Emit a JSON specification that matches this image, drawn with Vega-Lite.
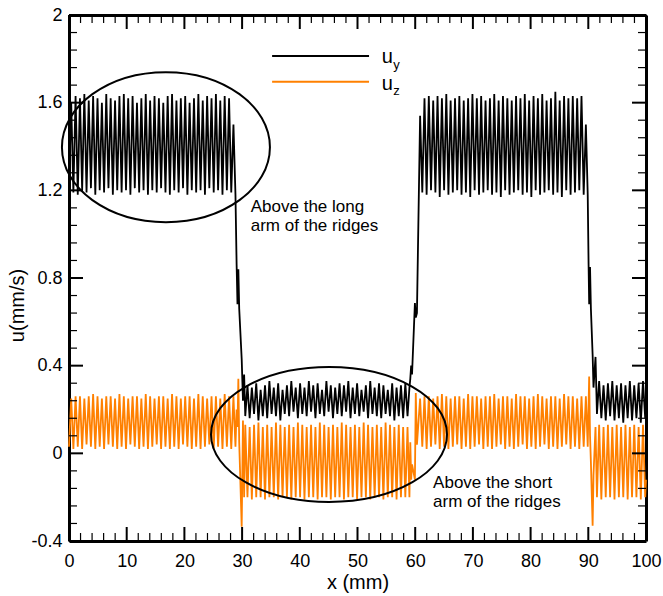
{
"$schema":"https://vega.github.io/schema/vega-lite/v6.json",
"width":577,"height":526,
"autosize":{"type":"none"},
"padding":{"left":69,"top":15,"right":17,"bottom":55},
"config":{"view":{"stroke":null},"font":"Liberation Sans","axis":{"grid":false,"domainColor":"black","tickColor":"black","labelColor":"black","titleColor":"black","labelFont":"Liberation Sans","titleFont":"Liberation Sans","labelFlush":false,"labelOverlap":false}},
"datasets":{
"main":[
{"x":0,"uy":1.20,"uz":0.03},{"x":0.38,"uy":1.60,"uz":0.25},{"x":0.76,"uy":1.19,"uz":0.02},{"x":1.14,"uy":1.63,"uz":0.26},{"x":1.52,"uy":1.18,"uz":0.03},{"x":1.9,"uy":1.62,"uz":0.26},{"x":2.28,"uy":1.20,"uz":0.02},{"x":2.66,"uy":1.64,"uz":0.25},{"x":3.04,"uy":1.19,"uz":0.04},{"x":3.42,"uy":1.61,"uz":0.26},
{"x":3.8,"uy":1.21,"uz":0.03},{"x":4.18,"uy":1.63,"uz":0.27},{"x":4.56,"uy":1.18,"uz":0.02},{"x":4.94,"uy":1.62,"uz":0.26},{"x":5.32,"uy":1.20,"uz":0.03},{"x":5.7,"uy":1.60,"uz":0.25},{"x":6.08,"uy":1.19,"uz":0.02},{"x":6.46,"uy":1.64,"uz":0.26},{"x":6.84,"uy":1.21,"uz":0.04},{"x":7.22,"uy":1.62,"uz":0.26},
{"x":7.6,"uy":1.18,"uz":0.03},{"x":7.98,"uy":1.61,"uz":0.25},{"x":8.36,"uy":1.20,"uz":0.02},{"x":8.74,"uy":1.63,"uz":0.27},{"x":9.12,"uy":1.19,"uz":0.03},{"x":9.5,"uy":1.64,"uz":0.26},{"x":9.88,"uy":1.20,"uz":0.02},{"x":10.26,"uy":1.62,"uz":0.25},{"x":10.64,"uy":1.18,"uz":0.04},{"x":11.02,"uy":1.63,"uz":0.26},
{"x":11.4,"uy":1.21,"uz":0.03},{"x":11.78,"uy":1.60,"uz":0.26},{"x":12.16,"uy":1.19,"uz":0.02},{"x":12.54,"uy":1.62,"uz":0.25},{"x":12.92,"uy":1.20,"uz":0.03},{"x":13.3,"uy":1.64,"uz":0.27},{"x":13.68,"uy":1.18,"uz":0.02},{"x":14.06,"uy":1.61,"uz":0.26},{"x":14.44,"uy":1.20,"uz":0.03},{"x":14.82,"uy":1.63,"uz":0.25},
{"x":15.2,"uy":1.19,"uz":0.04},{"x":15.58,"uy":1.62,"uz":0.26},{"x":15.96,"uy":1.21,"uz":0.02},{"x":16.34,"uy":1.60,"uz":0.26},{"x":16.72,"uy":1.19,"uz":0.03},{"x":17.1,"uy":1.63,"uz":0.25},{"x":17.48,"uy":1.18,"uz":0.02},{"x":17.86,"uy":1.64,"uz":0.27},{"x":18.24,"uy":1.20,"uz":0.03},{"x":18.62,"uy":1.61,"uz":0.26},
{"x":19.0,"uy":1.19,"uz":0.02},{"x":19.38,"uy":1.62,"uz":0.25},{"x":19.76,"uy":1.21,"uz":0.04},{"x":20.14,"uy":1.63,"uz":0.26},{"x":20.52,"uy":1.18,"uz":0.03},{"x":20.9,"uy":1.60,"uz":0.26},{"x":21.28,"uy":1.20,"uz":0.02},{"x":21.66,"uy":1.62,"uz":0.25},{"x":22.04,"uy":1.19,"uz":0.03},{"x":22.42,"uy":1.64,"uz":0.27},
{"x":22.8,"uy":1.20,"uz":0.02},{"x":23.18,"uy":1.61,"uz":0.26},{"x":23.56,"uy":1.18,"uz":0.03},{"x":23.94,"uy":1.63,"uz":0.25},{"x":24.32,"uy":1.21,"uz":0.04},{"x":24.7,"uy":1.62,"uz":0.26},{"x":25.08,"uy":1.19,"uz":0.02},{"x":25.46,"uy":1.64,"uz":0.26},{"x":25.84,"uy":1.20,"uz":0.03},{"x":26.22,"uy":1.61,"uz":0.25},
{"x":26.6,"uy":1.18,"uz":0.02},{"x":26.98,"uy":1.63,"uz":0.27},{"x":27.36,"uy":1.20,"uz":0.03},{"x":27.74,"uy":1.62,"uz":0.26},{"x":28.12,"uy":1.19,"uz":0.02},{"x":28.5,"uy":1.50,"uz":0.26},
{"x":28.85,"uy":1.18,"uz":0.03},{"x":29.05,"uy":0.86,"uz":0.20},{"x":29.2,"uy":0.68,"uz":0.12},{"x":29.35,"uy":0.84,"uz":0.34},{"x":29.5,"uy":0.66,"uz":0.05},{"x":29.93,"uy":0.43,"uz":-0.335},{"x":30.15,"uy":0.24,"uz":0.15},{"x":30.35,"uy":0.36,"uz":-0.20},
{"x":30.55,"uy":0.17,"uz":0.13},{"x":30.93,"uy":0.31,"uz":-0.20},{"x":31.31,"uy":0.16,"uz":0.12},{"x":31.69,"uy":0.30,"uz":-0.21},{"x":32.07,"uy":0.18,"uz":0.13},{"x":32.45,"uy":0.32,"uz":-0.20},{"x":32.83,"uy":0.15,"uz":0.14},{"x":33.21,"uy":0.29,"uz":-0.20},{"x":33.59,"uy":0.17,"uz":0.12},{"x":33.97,"uy":0.31,"uz":-0.21},
{"x":34.35,"uy":0.16,"uz":0.13},{"x":34.73,"uy":0.33,"uz":-0.20},{"x":35.11,"uy":0.18,"uz":0.12},{"x":35.49,"uy":0.30,"uz":-0.20},{"x":35.87,"uy":0.17,"uz":0.14},{"x":36.25,"uy":0.32,"uz":-0.21},{"x":36.63,"uy":0.15,"uz":0.13},{"x":37.01,"uy":0.29,"uz":-0.20},{"x":37.39,"uy":0.18,"uz":0.12},{"x":37.77,"uy":0.31,"uz":-0.20},
{"x":38.15,"uy":0.17,"uz":0.13},{"x":38.53,"uy":0.33,"uz":-0.21},{"x":38.91,"uy":0.19,"uz":0.12},{"x":39.29,"uy":0.30,"uz":-0.20},{"x":39.67,"uy":0.16,"uz":0.14},{"x":40.05,"uy":0.32,"uz":-0.20},{"x":40.43,"uy":0.18,"uz":0.13},{"x":40.81,"uy":0.30,"uz":-0.21},{"x":41.19,"uy":0.17,"uz":0.12},{"x":41.57,"uy":0.33,"uz":-0.20},
{"x":41.95,"uy":0.19,"uz":0.13},{"x":42.33,"uy":0.31,"uz":-0.20},{"x":42.71,"uy":0.16,"uz":0.12},{"x":43.09,"uy":0.32,"uz":-0.21},{"x":43.47,"uy":0.18,"uz":0.14},{"x":43.85,"uy":0.29,"uz":-0.20},{"x":44.23,"uy":0.17,"uz":0.13},{"x":44.61,"uy":0.33,"uz":-0.20},{"x":44.99,"uy":0.19,"uz":0.12},{"x":45.37,"uy":0.31,"uz":-0.21},
{"x":45.75,"uy":0.16,"uz":0.13},{"x":46.13,"uy":0.30,"uz":-0.20},{"x":46.51,"uy":0.18,"uz":0.12},{"x":46.89,"uy":0.32,"uz":-0.20},{"x":47.27,"uy":0.17,"uz":0.14},{"x":47.65,"uy":0.31,"uz":-0.21},{"x":48.03,"uy":0.19,"uz":0.13},{"x":48.41,"uy":0.33,"uz":-0.20},{"x":48.79,"uy":0.16,"uz":0.12},{"x":49.17,"uy":0.30,"uz":-0.20},
{"x":49.55,"uy":0.18,"uz":0.13},{"x":49.93,"uy":0.32,"uz":-0.21},{"x":50.31,"uy":0.17,"uz":0.12},{"x":50.69,"uy":0.29,"uz":-0.20},{"x":51.07,"uy":0.19,"uz":0.14},{"x":51.45,"uy":0.31,"uz":-0.20},{"x":51.83,"uy":0.16,"uz":0.13},{"x":52.21,"uy":0.33,"uz":-0.21},{"x":52.59,"uy":0.18,"uz":0.12},{"x":52.97,"uy":0.30,"uz":-0.20},
{"x":53.35,"uy":0.17,"uz":0.13},{"x":53.73,"uy":0.32,"uz":-0.20},{"x":54.11,"uy":0.16,"uz":0.12},{"x":54.49,"uy":0.31,"uz":-0.21},{"x":54.87,"uy":0.18,"uz":0.14},{"x":55.25,"uy":0.29,"uz":-0.20},{"x":55.63,"uy":0.17,"uz":0.13},{"x":56.01,"uy":0.32,"uz":-0.20},{"x":56.39,"uy":0.15,"uz":0.12},{"x":56.77,"uy":0.30,"uz":-0.21},
{"x":57.15,"uy":0.17,"uz":0.13},{"x":57.53,"uy":0.31,"uz":-0.20},{"x":57.91,"uy":0.16,"uz":0.12},{"x":58.29,"uy":0.32,"uz":-0.20},{"x":58.67,"uy":0.17,"uz":0.12},
{"x":59.0,"uy":0.30,"uz":-0.20},{"x":59.15,"uy":0.34,"uz":0.05},{"x":59.3,"uy":0.40,"uz":-0.12},{"x":59.45,"uy":0.36,"uz":-0.05},{"x":59.95,"uy":0.686,"uz":-0.12},{"x":60.1,"uy":0.62,"uz":0.275},{"x":60.3,"uy":0.64,"uz":0.04},
{"x":60.85,"uy":1.54,"uz":0.25},{"x":61.23,"uy":1.19,"uz":0.03},{"x":61.61,"uy":1.62,"uz":0.26},{"x":61.98,"uy":1.18,"uz":0.02},{"x":62.36,"uy":1.63,"uz":0.26},{"x":62.74,"uy":1.20,"uz":0.03},{"x":63.12,"uy":1.61,"uz":0.25},{"x":63.5,"uy":1.19,"uz":0.04},{"x":63.87,"uy":1.63,"uz":0.26},{"x":64.25,"uy":1.17,"uz":0.02},
{"x":64.63,"uy":1.62,"uz":0.27},{"x":65.01,"uy":1.20,"uz":0.03},{"x":65.39,"uy":1.64,"uz":0.26},{"x":65.76,"uy":1.18,"uz":0.02},{"x":66.14,"uy":1.61,"uz":0.25},{"x":66.52,"uy":1.19,"uz":0.03},{"x":66.9,"uy":1.62,"uz":0.26},{"x":67.28,"uy":1.20,"uz":0.04},{"x":67.65,"uy":1.63,"uz":0.26},{"x":68.03,"uy":1.18,"uz":0.02},
{"x":68.41,"uy":1.61,"uz":0.25},{"x":68.79,"uy":1.19,"uz":0.03},{"x":69.17,"uy":1.62,"uz":0.27},{"x":69.54,"uy":1.17,"uz":0.02},{"x":69.92,"uy":1.64,"uz":0.26},{"x":70.3,"uy":1.20,"uz":0.03},{"x":70.68,"uy":1.62,"uz":0.26},{"x":71.06,"uy":1.18,"uz":0.04},{"x":71.43,"uy":1.63,"uz":0.25},{"x":71.81,"uy":1.19,"uz":0.02},
{"x":72.19,"uy":1.61,"uz":0.26},{"x":72.57,"uy":1.20,"uz":0.03},{"x":72.95,"uy":1.62,"uz":0.26},{"x":73.32,"uy":1.18,"uz":0.02},{"x":73.7,"uy":1.64,"uz":0.27},{"x":74.08,"uy":1.19,"uz":0.03},{"x":74.46,"uy":1.61,"uz":0.25},{"x":74.84,"uy":1.17,"uz":0.04},{"x":75.21,"uy":1.63,"uz":0.26},{"x":75.59,"uy":1.20,"uz":0.02},
{"x":75.97,"uy":1.62,"uz":0.26},{"x":76.35,"uy":1.18,"uz":0.03},{"x":76.73,"uy":1.61,"uz":0.25},{"x":77.1,"uy":1.19,"uz":0.02},{"x":77.48,"uy":1.63,"uz":0.27},{"x":77.86,"uy":1.20,"uz":0.03},{"x":78.24,"uy":1.62,"uz":0.26},{"x":78.62,"uy":1.18,"uz":0.04},{"x":78.99,"uy":1.64,"uz":0.26},{"x":79.37,"uy":1.19,"uz":0.02},
{"x":79.75,"uy":1.61,"uz":0.25},{"x":80.13,"uy":1.17,"uz":0.03},{"x":80.51,"uy":1.63,"uz":0.26},{"x":80.88,"uy":1.20,"uz":0.02},{"x":81.26,"uy":1.62,"uz":0.27},{"x":81.64,"uy":1.18,"uz":0.03},{"x":82.02,"uy":1.64,"uz":0.26},{"x":82.4,"uy":1.19,"uz":0.04},{"x":82.77,"uy":1.61,"uz":0.25},{"x":83.15,"uy":1.20,"uz":0.02},
{"x":83.53,"uy":1.62,"uz":0.26},{"x":83.91,"uy":1.18,"uz":0.03},{"x":84.29,"uy":1.65,"uz":0.26},{"x":84.66,"uy":1.19,"uz":0.02},{"x":85.04,"uy":1.61,"uz":0.25},{"x":85.42,"uy":1.17,"uz":0.03},{"x":85.8,"uy":1.63,"uz":0.27},{"x":86.18,"uy":1.20,"uz":0.04},{"x":86.55,"uy":1.62,"uz":0.26},{"x":86.93,"uy":1.18,"uz":0.02},
{"x":87.31,"uy":1.63,"uz":0.26},{"x":87.69,"uy":1.19,"uz":0.03},{"x":88.07,"uy":1.62,"uz":0.25},{"x":88.44,"uy":1.20,"uz":0.02},{"x":88.82,"uy":1.63,"uz":0.26},{"x":89.2,"uy":1.18,"uz":0.03},{"x":89.58,"uy":1.50,"uz":0.26},
{"x":89.9,"uy":1.18,"uz":0.03},{"x":90.05,"uy":0.86,"uz":0.22},{"x":90.15,"uy":0.68,"uz":0.35},{"x":90.3,"uy":0.85,"uz":0.08},{"x":90.45,"uy":0.66,"uz":-0.04},{"x":90.75,"uy":0.45,"uz":-0.33},{"x":90.9,"uy":0.30,"uz":-0.10},{"x":91.25,"uy":0.44,"uz":0.12},
{"x":91.5,"uy":0.18,"uz":-0.20},{"x":91.88,"uy":0.33,"uz":0.13},{"x":92.26,"uy":0.16,"uz":-0.21},{"x":92.64,"uy":0.31,"uz":0.12},{"x":93.02,"uy":0.15,"uz":-0.20},{"x":93.4,"uy":0.32,"uz":0.13},{"x":93.78,"uy":0.17,"uz":-0.20},{"x":94.16,"uy":0.33,"uz":0.12},{"x":94.54,"uy":0.15,"uz":-0.21},{"x":94.92,"uy":0.31,"uz":0.13},
{"x":95.3,"uy":0.16,"uz":-0.20},{"x":95.68,"uy":0.32,"uz":0.12},{"x":96.06,"uy":0.14,"uz":-0.20},{"x":96.44,"uy":0.31,"uz":0.13},{"x":96.82,"uy":0.16,"uz":-0.21},{"x":97.2,"uy":0.33,"uz":0.12},{"x":97.58,"uy":0.15,"uz":-0.20},{"x":97.96,"uy":0.31,"uz":0.13},{"x":98.34,"uy":0.16,"uz":-0.20},{"x":98.72,"uy":0.32,"uz":0.12},
{"x":99.1,"uy":0.14,"uz":-0.21},{"x":99.48,"uy":0.33,"uz":0.13},{"x":99.86,"uy":0.16,"uz":-0.20},{"x":100,"uy":0.22,"uz":-0.12}
],
"ann":[{"x":31.5,"y":1.103,"t":"Above the long"},{"x":31.5,"y":1.0164,"t":"arm of the ridges"},{"x":63.1,"y":-0.158,"t":"Above the short"},{"x":63.1,"y":-0.245,"t":"arm of the ridges"}],
"leg":[{"x":35.2,"x2":52.0,"y":1.8125,"s":"uy"},{"x":35.2,"x2":52.0,"y":1.695,"s":"uz"}],
"legu":[{"x":54.2,"y":1.779,"t":"u"},{"x":54.2,"y":1.657,"t":"u"}],
"legs":[{"x":56.2,"y":1.753,"t":"y"},{"x":56.2,"y":1.635,"t":"z"}],
"tmaj":[
{"x":0,"x2":0,"y":-0.4,"y2":-0.336},{"x":10,"x2":10,"y":-0.4,"y2":-0.336},{"x":20,"x2":20,"y":-0.4,"y2":-0.336},{"x":30,"x2":30,"y":-0.4,"y2":-0.336},{"x":40,"x2":40,"y":-0.4,"y2":-0.336},{"x":50,"x2":50,"y":-0.4,"y2":-0.336},{"x":60,"x2":60,"y":-0.4,"y2":-0.336},{"x":70,"x2":70,"y":-0.4,"y2":-0.336},{"x":80,"x2":80,"y":-0.4,"y2":-0.336},{"x":90,"x2":90,"y":-0.4,"y2":-0.336},{"x":100,"x2":100,"y":-0.4,"y2":-0.336},
{"x":0,"x2":0,"y":2,"y2":1.936},{"x":10,"x2":10,"y":2,"y2":1.936},{"x":20,"x2":20,"y":2,"y2":1.936},{"x":30,"x2":30,"y":2,"y2":1.936},{"x":40,"x2":40,"y":2,"y2":1.936},{"x":50,"x2":50,"y":2,"y2":1.936},{"x":60,"x2":60,"y":2,"y2":1.936},{"x":70,"x2":70,"y":2,"y2":1.936},{"x":80,"x2":80,"y":2,"y2":1.936},{"x":90,"x2":90,"y":2,"y2":1.936},{"x":100,"x2":100,"y":2,"y2":1.936},
{"x":0,"x2":2.43,"y":-0.4,"y2":-0.4},{"x":0,"x2":2.43,"y":0,"y2":0},{"x":0,"x2":2.43,"y":0.4,"y2":0.4},{"x":0,"x2":2.43,"y":0.8,"y2":0.8},{"x":0,"x2":2.43,"y":1.2,"y2":1.2},{"x":0,"x2":2.43,"y":1.6,"y2":1.6},{"x":0,"x2":2.43,"y":2,"y2":2},
{"x":100,"x2":97.57,"y":-0.4,"y2":-0.4},{"x":100,"x2":97.57,"y":0,"y2":0},{"x":100,"x2":97.57,"y":0.4,"y2":0.4},{"x":100,"x2":97.57,"y":0.8,"y2":0.8},{"x":100,"x2":97.57,"y":1.2,"y2":1.2},{"x":100,"x2":97.57,"y":1.6,"y2":1.6},{"x":100,"x2":97.57,"y":2,"y2":2}
],
"tmin":[
{"x":2,"x2":2,"y":-0.4,"y2":-0.3635},{"x":4,"x2":4,"y":-0.4,"y2":-0.3635},{"x":6,"x2":6,"y":-0.4,"y2":-0.3635},{"x":8,"x2":8,"y":-0.4,"y2":-0.3635},{"x":12,"x2":12,"y":-0.4,"y2":-0.3635},{"x":14,"x2":14,"y":-0.4,"y2":-0.3635},{"x":16,"x2":16,"y":-0.4,"y2":-0.3635},{"x":18,"x2":18,"y":-0.4,"y2":-0.3635},{"x":22,"x2":22,"y":-0.4,"y2":-0.3635},{"x":24,"x2":24,"y":-0.4,"y2":-0.3635},{"x":26,"x2":26,"y":-0.4,"y2":-0.3635},{"x":28,"x2":28,"y":-0.4,"y2":-0.3635},{"x":32,"x2":32,"y":-0.4,"y2":-0.3635},{"x":34,"x2":34,"y":-0.4,"y2":-0.3635},{"x":36,"x2":36,"y":-0.4,"y2":-0.3635},{"x":38,"x2":38,"y":-0.4,"y2":-0.3635},{"x":42,"x2":42,"y":-0.4,"y2":-0.3635},{"x":44,"x2":44,"y":-0.4,"y2":-0.3635},{"x":46,"x2":46,"y":-0.4,"y2":-0.3635},{"x":48,"x2":48,"y":-0.4,"y2":-0.3635},
{"x":52,"x2":52,"y":-0.4,"y2":-0.3635},{"x":54,"x2":54,"y":-0.4,"y2":-0.3635},{"x":56,"x2":56,"y":-0.4,"y2":-0.3635},{"x":58,"x2":58,"y":-0.4,"y2":-0.3635},{"x":62,"x2":62,"y":-0.4,"y2":-0.3635},{"x":64,"x2":64,"y":-0.4,"y2":-0.3635},{"x":66,"x2":66,"y":-0.4,"y2":-0.3635},{"x":68,"x2":68,"y":-0.4,"y2":-0.3635},{"x":72,"x2":72,"y":-0.4,"y2":-0.3635},{"x":74,"x2":74,"y":-0.4,"y2":-0.3635},{"x":76,"x2":76,"y":-0.4,"y2":-0.3635},{"x":78,"x2":78,"y":-0.4,"y2":-0.3635},{"x":82,"x2":82,"y":-0.4,"y2":-0.3635},{"x":84,"x2":84,"y":-0.4,"y2":-0.3635},{"x":86,"x2":86,"y":-0.4,"y2":-0.3635},{"x":88,"x2":88,"y":-0.4,"y2":-0.3635},{"x":92,"x2":92,"y":-0.4,"y2":-0.3635},{"x":94,"x2":94,"y":-0.4,"y2":-0.3635},{"x":96,"x2":96,"y":-0.4,"y2":-0.3635},{"x":98,"x2":98,"y":-0.4,"y2":-0.3635},
{"x":2,"x2":2,"y":2,"y2":1.9635},{"x":4,"x2":4,"y":2,"y2":1.9635},{"x":6,"x2":6,"y":2,"y2":1.9635},{"x":8,"x2":8,"y":2,"y2":1.9635},{"x":12,"x2":12,"y":2,"y2":1.9635},{"x":14,"x2":14,"y":2,"y2":1.9635},{"x":16,"x2":16,"y":2,"y2":1.9635},{"x":18,"x2":18,"y":2,"y2":1.9635},{"x":22,"x2":22,"y":2,"y2":1.9635},{"x":24,"x2":24,"y":2,"y2":1.9635},{"x":26,"x2":26,"y":2,"y2":1.9635},{"x":28,"x2":28,"y":2,"y2":1.9635},{"x":32,"x2":32,"y":2,"y2":1.9635},{"x":34,"x2":34,"y":2,"y2":1.9635},{"x":36,"x2":36,"y":2,"y2":1.9635},{"x":38,"x2":38,"y":2,"y2":1.9635},{"x":42,"x2":42,"y":2,"y2":1.9635},{"x":44,"x2":44,"y":2,"y2":1.9635},{"x":46,"x2":46,"y":2,"y2":1.9635},{"x":48,"x2":48,"y":2,"y2":1.9635},
{"x":52,"x2":52,"y":2,"y2":1.9635},{"x":54,"x2":54,"y":2,"y2":1.9635},{"x":56,"x2":56,"y":2,"y2":1.9635},{"x":58,"x2":58,"y":2,"y2":1.9635},{"x":62,"x2":62,"y":2,"y2":1.9635},{"x":64,"x2":64,"y":2,"y2":1.9635},{"x":66,"x2":66,"y":2,"y2":1.9635},{"x":68,"x2":68,"y":2,"y2":1.9635},{"x":72,"x2":72,"y":2,"y2":1.9635},{"x":74,"x2":74,"y":2,"y2":1.9635},{"x":76,"x2":76,"y":2,"y2":1.9635},{"x":78,"x2":78,"y":2,"y2":1.9635},{"x":82,"x2":82,"y":2,"y2":1.9635},{"x":84,"x2":84,"y":2,"y2":1.9635},{"x":86,"x2":86,"y":2,"y2":1.9635},{"x":88,"x2":88,"y":2,"y2":1.9635},{"x":92,"x2":92,"y":2,"y2":1.9635},{"x":94,"x2":94,"y":2,"y2":1.9635},{"x":96,"x2":96,"y":2,"y2":1.9635},{"x":98,"x2":98,"y":2,"y2":1.9635},
{"x":0,"x2":1.39,"y":-0.32,"y2":-0.32},{"x":0,"x2":1.39,"y":-0.24,"y2":-0.24},{"x":0,"x2":1.39,"y":-0.16,"y2":-0.16},{"x":0,"x2":1.39,"y":-0.08,"y2":-0.08},{"x":0,"x2":1.39,"y":0.08,"y2":0.08},{"x":0,"x2":1.39,"y":0.16,"y2":0.16},{"x":0,"x2":1.39,"y":0.24,"y2":0.24},{"x":0,"x2":1.39,"y":0.32,"y2":0.32},{"x":0,"x2":1.39,"y":0.48,"y2":0.48},{"x":0,"x2":1.39,"y":0.56,"y2":0.56},{"x":0,"x2":1.39,"y":0.64,"y2":0.64},{"x":0,"x2":1.39,"y":0.72,"y2":0.72},
{"x":0,"x2":1.39,"y":0.88,"y2":0.88},{"x":0,"x2":1.39,"y":0.96,"y2":0.96},{"x":0,"x2":1.39,"y":1.04,"y2":1.04},{"x":0,"x2":1.39,"y":1.12,"y2":1.12},{"x":0,"x2":1.39,"y":1.28,"y2":1.28},{"x":0,"x2":1.39,"y":1.36,"y2":1.36},{"x":0,"x2":1.39,"y":1.44,"y2":1.44},{"x":0,"x2":1.39,"y":1.52,"y2":1.52},{"x":0,"x2":1.39,"y":1.68,"y2":1.68},{"x":0,"x2":1.39,"y":1.76,"y2":1.76},{"x":0,"x2":1.39,"y":1.84,"y2":1.84},{"x":0,"x2":1.39,"y":1.92,"y2":1.92},
{"x":100,"x2":98.61,"y":-0.32,"y2":-0.32},{"x":100,"x2":98.61,"y":-0.24,"y2":-0.24},{"x":100,"x2":98.61,"y":-0.16,"y2":-0.16},{"x":100,"x2":98.61,"y":-0.08,"y2":-0.08},{"x":100,"x2":98.61,"y":0.08,"y2":0.08},{"x":100,"x2":98.61,"y":0.16,"y2":0.16},{"x":100,"x2":98.61,"y":0.24,"y2":0.24},{"x":100,"x2":98.61,"y":0.32,"y2":0.32},{"x":100,"x2":98.61,"y":0.48,"y2":0.48},{"x":100,"x2":98.61,"y":0.56,"y2":0.56},{"x":100,"x2":98.61,"y":0.64,"y2":0.64},{"x":100,"x2":98.61,"y":0.72,"y2":0.72},
{"x":100,"x2":98.61,"y":0.88,"y2":0.88},{"x":100,"x2":98.61,"y":0.96,"y2":0.96},{"x":100,"x2":98.61,"y":1.04,"y2":1.04},{"x":100,"x2":98.61,"y":1.12,"y2":1.12},{"x":100,"x2":98.61,"y":1.28,"y2":1.28},{"x":100,"x2":98.61,"y":1.36,"y2":1.36},{"x":100,"x2":98.61,"y":1.44,"y2":1.44},{"x":100,"x2":98.61,"y":1.52,"y2":1.52},{"x":100,"x2":98.61,"y":1.68,"y2":1.68},{"x":100,"x2":98.61,"y":1.76,"y2":1.76},{"x":100,"x2":98.61,"y":1.84,"y2":1.84},{"x":100,"x2":98.61,"y":1.92,"y2":1.92}
]
},
"layer":[
{"data":{"name":"main"},"mark":{"type":"line","color":"#ff8000","strokeWidth":1.8},
 "encoding":{
  "x":{"field":"x","type":"quantitative","scale":{"domain":[0,100],"nice":false,"zero":false},
   "axis":{"orient":"bottom","values":[0,10,20,30,40,50,60,70,80,90,100],"ticks":false,"domain":true,"domainWidth":3,"labelFontSize":18,"labelPadding":11,"labelExpr":"''+datum.value","title":"x (mm)","titleFontSize":20,"titleFontWeight":"normal","titlePadding":2}},
  "y":{"field":"uz","type":"quantitative","scale":{"domain":[-0.4,2],"nice":false,"zero":false},
   "axis":{"orient":"left","values":[-0.4,0,0.4,0.8,1.2,1.6,2],"ticks":false,"domain":true,"domainWidth":3,"labelFontSize":18,"labelPadding":7,"labelExpr":"''+datum.value","title":"u(mm/s)","titleFontSize":20,"titleFontWeight":"normal","titlePadding":3,"titleY":290}}}},
{"data":{"name":"main"},"mark":{"type":"line","color":"#000000","strokeWidth":1.8},
 "encoding":{
  "x":{"field":"x","type":"quantitative","axis":null},
  "y":{"field":"uy","type":"quantitative","axis":null}}},
{"data":{"values":[{"x":16.8,"y":1.397}]},"mark":{"type":"point","shape":"M-1,0A1,0.721,0,1,1,1,0A1,0.721,0,1,1,-1,0Z","size":43264,"filled":false,"stroke":"black","strokeWidth":2,"opacity":1},
 "encoding":{
  "x":{"field":"x","type":"quantitative","axis":null},
  "y":{"field":"y","type":"quantitative","axis":null}}},
{"data":{"values":[{"x":45.06,"y":0.086}]},"mark":{"type":"point","shape":"M-1,0A1,0.572,0,1,1,1,0A1,0.572,0,1,1,-1,0Z","size":55696,"filled":false,"stroke":"black","strokeWidth":2,"opacity":1},
 "encoding":{
  "x":{"field":"x","type":"quantitative",
   "axis":{"orient":"top","values":[0,10,20,30,40,50,60,70,80,90,100],"labels":false,"domain":true,"domainWidth":3,"ticks":false,"title":null}},
  "y":{"field":"y","type":"quantitative",
   "axis":{"orient":"right","values":[-0.4,0,0.4,0.8,1.2,1.6,2],"labels":false,"domain":true,"domainWidth":3,"ticks":false,"title":null}}}},
{"data":{"name":"tmaj"},"mark":{"type":"rule","color":"black","strokeWidth":2},
 "encoding":{"x":{"field":"x","type":"quantitative","axis":null},"x2":{"field":"x2"},"y":{"field":"y","type":"quantitative","axis":null},"y2":{"field":"y2"}}},
{"data":{"name":"tmin"},"mark":{"type":"rule","color":"black","strokeWidth":1.2},
 "encoding":{"x":{"field":"x","type":"quantitative","axis":null},"x2":{"field":"x2"},"y":{"field":"y","type":"quantitative","axis":null},"y2":{"field":"y2"}}},
{"data":{"name":"ann"},"mark":{"type":"text","align":"left","baseline":"alphabetic","fontSize":17,"font":"Liberation Sans","color":"black"},
 "encoding":{
  "x":{"field":"x","type":"quantitative","axis":null},
  "y":{"field":"y","type":"quantitative","axis":null},
  "text":{"field":"t"}}},
{"data":{"name":"leg"},"mark":{"type":"rule","strokeWidth":2},
 "encoding":{
  "x":{"field":"x","type":"quantitative","axis":null},
  "x2":{"field":"x2"},
  "y":{"field":"y","type":"quantitative","axis":null},
  "color":{"field":"s","type":"nominal","scale":{"domain":["uy","uz"],"range":["#000000","#ff8000"]},"legend":null}}},
{"data":{"name":"legu"},"mark":{"type":"text","align":"left","baseline":"alphabetic","fontSize":20,"font":"Liberation Sans","color":"black"},
 "encoding":{
  "x":{"field":"x","type":"quantitative","axis":null},
  "y":{"field":"y","type":"quantitative","axis":null},
  "text":{"field":"t"}}},
{"data":{"name":"legs"},"mark":{"type":"text","align":"left","baseline":"alphabetic","fontSize":13,"font":"Liberation Sans","color":"black"},
 "encoding":{
  "x":{"field":"x","type":"quantitative","axis":null},
  "y":{"field":"y","type":"quantitative","axis":null},
  "text":{"field":"t"}}}
],
"resolve":{"axis":{"x":"independent","y":"independent"}}
}
